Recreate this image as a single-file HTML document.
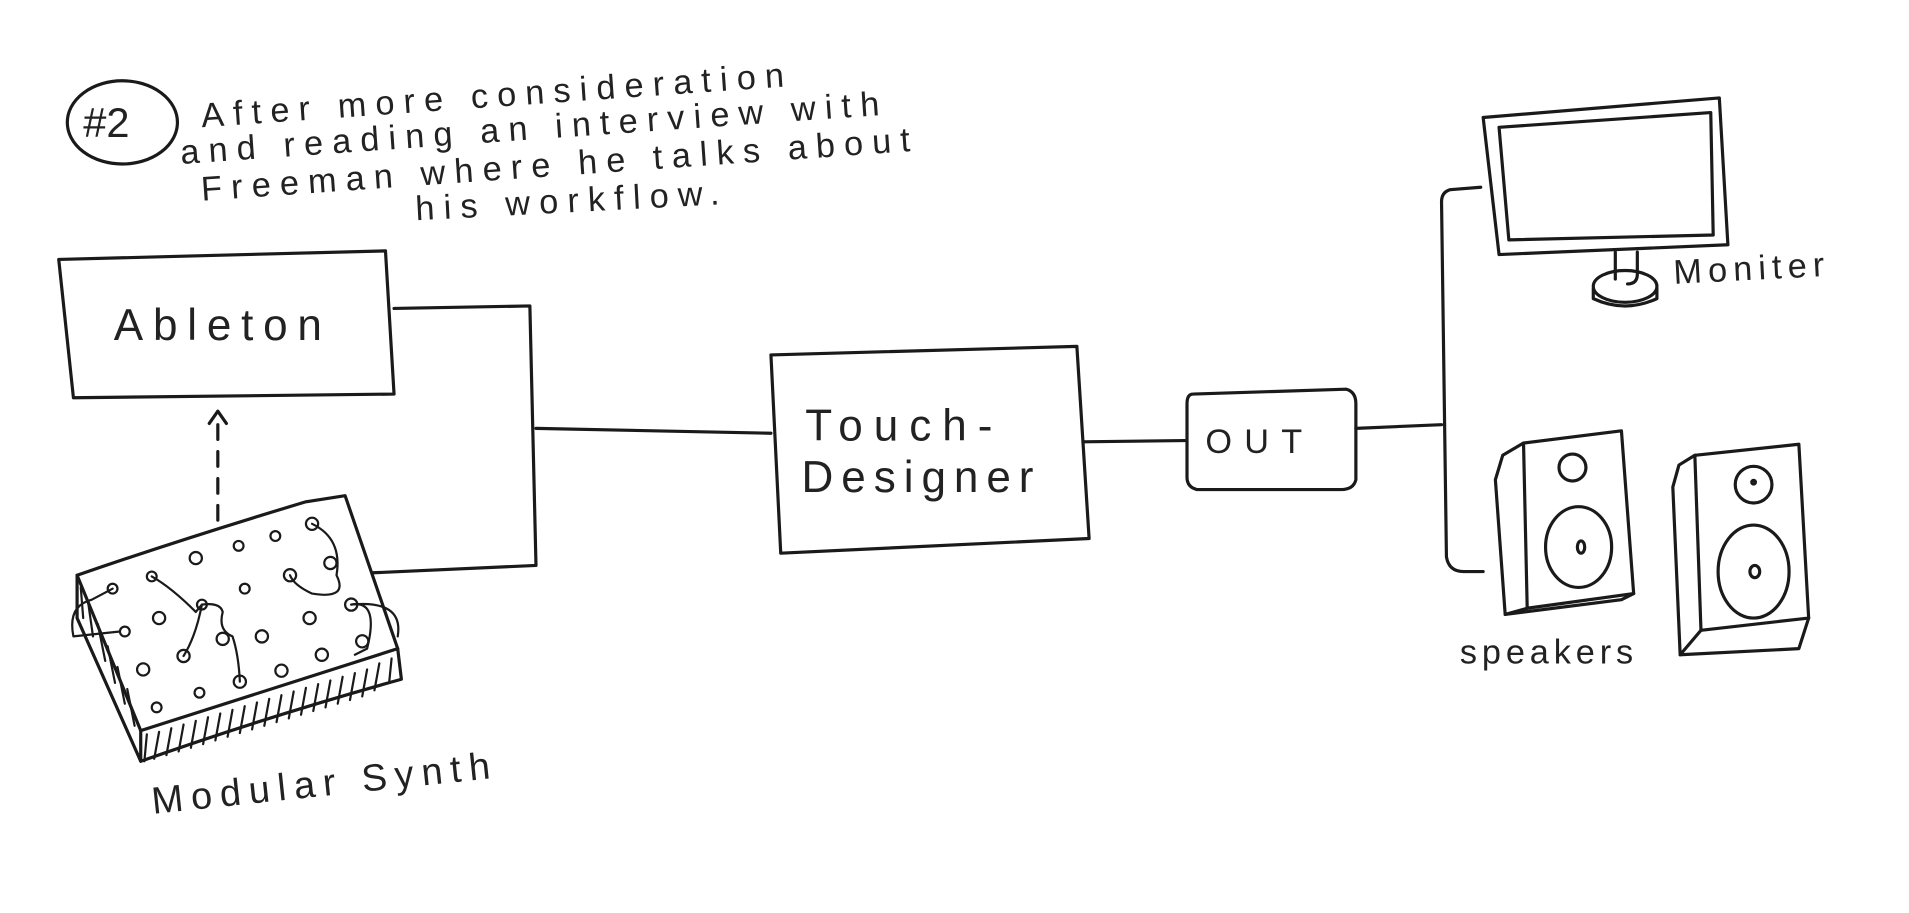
<!DOCTYPE html>
<html><head><style>
html,body{margin:0;padding:0;background:#fff;width:1909px;height:913px;overflow:hidden}
svg{display:block}
text{font-family:"Liberation Sans",sans-serif;fill:#222;font-weight:normal}
</style></head><body>
<svg width="1909" height="913" viewBox="0 0 1560 746" preserveAspectRatio="none" xmlns="http://www.w3.org/2000/svg">
<g fill="none" stroke="#1a1a1a" stroke-width="2.6" stroke-linecap="round" stroke-linejoin="round">
<ellipse cx="100" cy="100" rx="45" ry="34"/>
<path d="M48 212 L315 205 L322 322 L60 325 Z"/>
<path d="M322 252 L433 250 L438 462 L305 468"/>
<path d="M438 350 L630 354"/>
<path d="M630 290 L880 283 L890 440 L638 452 Z"/>
<path d="M885 361 L968 360"/>
<path d="M975 322 L1100 318 Q1108 320 1108 330 L1108 392 Q1106 400 1096 400 L978 400 Q970 398 970 390 L970 330 Q970 322 975 322 Z"/>
<path d="M1108 350 L1178 347"/>
<path d="M1210 153 L1185 155 Q1178 157 1178 165 L1182 455 Q1184 467 1196 467 L1212 467"/>
<path d="M1212 96 L1405 80 L1412 200 L1225 208 Z"/>
<path d="M1225 104 L1398 92 L1400 192 L1233 196 Z"/>
<path d="M1320 206 L1320 228 M1338 206 L1338 224 Q1338 232 1330 232"/>
<ellipse cx="1328" cy="234" rx="26" ry="13"/>
<path d="M1302 236 L1302 244 Q1328 256 1354 244 L1354 236"/>
<path d="M1245 362 L1325 352 L1335 485 L1248 497 Z"/>
<path d="M1245 362 L1228 372 L1222 392 L1230 502 L1248 497"/>
<path d="M1230 502 L1325 490 L1335 485"/>
<circle cx="1285" cy="382" r="11"/>
<ellipse cx="1290" cy="447" rx="27" ry="33"/>
<ellipse cx="1292" cy="447" rx="3" ry="5"/>
<path d="M1385 372 L1470 363 L1478 505 L1390 515 Z"/>
<path d="M1385 372 L1372 380 L1367 398 L1373 535 L1390 515"/>
<path d="M1373 535 L1470 530 L1478 505"/>
<circle cx="1433" cy="396" r="15"/>
<circle cx="1433" cy="394" r="1.5"/>
<ellipse cx="1433" cy="467" rx="29" ry="38"/>
<ellipse cx="1434" cy="467" rx="4" ry="5"/>
<path d="M178 425 L178 340" stroke-dasharray="12 10"/>
<path d="M171 346 L178 336 L185 346"/>
<path d="M63 470 Q150 440 250 410 L282 405 L325 530 Q230 560 115 597 Z"/>
<path d="M63 470 L63 505 L115 622 L115 597"/>
<path d="M115 622 Q220 585 328 555 L325 530"/>
<g stroke-width="1.8">
<path d="M120 600 L118 622 M130 598 L126 620 M140 595 L136 617 M150 592 L146 614 M160 589 L156 611 M170 586 L166 608 M180 583 L176 605 M190 580 L186 602 M200 577 L196 599 M210 574 L206 596 M220 571 L216 593 M230 568 L226 590 M240 565 L236 587 M250 562 L246 584 M260 559 L256 581 M270 556 L266 578 M280 553 L276 575 M290 550 L286 572 M300 547 L296 569 M310 542 L306 564 M320 538 L318 558"/>
<path d="M66 480 L68 505 M72 492 L76 520 M80 510 L86 540 M88 528 L94 558 M96 545 L102 575 M104 563 L110 593"/>
<circle cx="92" cy="481" r="4"/><circle cx="124" cy="471" r="4"/><circle cx="160" cy="456" r="5"/><circle cx="195" cy="446" r="4"/><circle cx="225" cy="438" r="4"/><circle cx="255" cy="428" r="5"/>
<circle cx="270" cy="460" r="5"/><circle cx="237" cy="470" r="5"/><circle cx="200" cy="481" r="4"/><circle cx="165" cy="494" r="4"/><circle cx="130" cy="505" r="5"/><circle cx="102" cy="516" r="4"/>
<circle cx="287" cy="494" r="5"/><circle cx="253" cy="505" r="5"/><circle cx="214" cy="520" r="5"/><circle cx="182" cy="522" r="5"/><circle cx="150" cy="536" r="5"/><circle cx="117" cy="547" r="5"/>
<circle cx="296" cy="524" r="5"/><circle cx="263" cy="535" r="5"/><circle cx="230" cy="548" r="5"/><circle cx="196" cy="557" r="5"/><circle cx="163" cy="566" r="4"/><circle cx="128" cy="578" r="4"/>
<path d="M124 471 Q140 480 160 500 L165 494 Q180 492 182 500 Q178 515 190 520 Q195 535 196 557"/>
<path d="M165 494 Q160 520 150 536"/>
<path d="M255 428 Q280 440 275 470 Q285 490 255 485 Q240 478 237 470"/>
<path d="M287 494 Q310 490 300 530 L290 535"/>
<path d="M287 494 Q330 490 325 520"/>
<path d="M92 481 L75 490 Q55 495 60 520 L98 516"/>
</g>
</g>
<g font-size="28" letter-spacing="7.5">
<text x="68" y="112" font-size="34" letter-spacing="0">#2</text>
<text x="165" y="104" transform="rotate(-4 165 104)">After more consideration</text>
<text x="148" y="134" transform="rotate(-4 148 134)">and reading an interview with</text>
<text x="165" y="164" transform="rotate(-4 165 164)">Freeman where he talks about</text>
<text x="340" y="180" transform="rotate(-3 340 180)">his  workflow.</text>
</g>
<text x="93" y="278" font-size="36" letter-spacing="8">Ableton</text>
<text x="658" y="360" font-size="36" letter-spacing="9">Touch-</text>
<text x="655" y="402" font-size="36" letter-spacing="6.5">Designer</text>
<text x="985" y="370" font-size="28" letter-spacing="10">OUT</text>
<text x="1368" y="232" font-size="28" letter-spacing="5" transform="rotate(-3 1368 232)">Moniter</text>
<text x="1193" y="542" font-size="28" letter-spacing="4">speakers</text>
<text x="125" y="665" font-size="31" letter-spacing="6.5" transform="rotate(-6 125 665)">Modular Synth</text>
</svg>
</body></html>
